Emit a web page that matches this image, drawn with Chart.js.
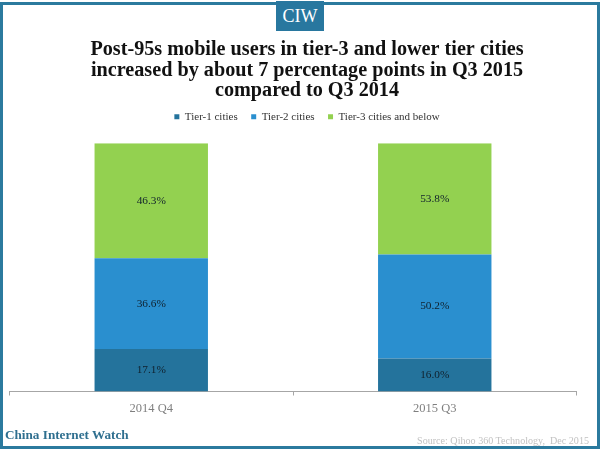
<!DOCTYPE html>
<html>
<head>
<meta charset="utf-8">
<script src="https://cdn.jsdelivr.net/npm/chart.js@4"></script>
<style>
html,body{margin:0;padding:0;background:#fff;}
#wrap{position:relative;width:600px;height:450px;overflow:hidden;background:#fff;}
#frame{position:absolute;left:0;top:2px;width:594px;height:441px;border:3px solid #2b7a9e;pointer-events:none;}
canvas{position:absolute;left:0;top:0;}
#badge{position:absolute;left:276px;top:1px;width:48px;height:30px;background:#28779f;color:#fff;font:18px "Liberation Serif",serif;line-height:31px;text-align:center;}
#brand{position:absolute;left:5px;top:426.5px;font:bold 13.2px "Liberation Serif",serif;line-height:15px;color:#2f6f8f;white-space:nowrap;}
#source{position:absolute;right:11px;top:433.5px;font:10.1px "Liberation Serif",serif;line-height:14px;color:#c2c2c2;white-space:pre;}
</style>
</head>
<body>
<div id="wrap">
<canvas id="c" width="600" height="450"></canvas>
<div id="frame"></div>
<div id="badge">CIW</div>
<div id="brand">China Internet Watch</div>
<div id="source">Source: Qihoo 360 Technology,  Dec 2015</div>
</div>
<script>
const categories = ["2014 Q4", "2015 Q3"];
const tier1 = [17.1, 16.0];
const tier2 = [36.6, 50.2];
const tier3 = [46.3, 53.8];
const seriesNames = ["Tier-1 cities", "Tier-2 cities", "Tier-3 cities and below"];
const seriesColors = ["#24739c", "#2a8fcf", "#93d150"];
const titleLines = [
  "Post-95s mobile users in tier-3 and lower tier cities",
  "increased by about 7 percentage points in Q3 2015",
  "compared to Q3 2014"
];

// The reference is a 100% stacked column: each column fills the full height.
const raw = [tier1, tier2, tier3];
const totals = categories.map((_, i) => raw.reduce((s, r) => s + r[i], 0));

const valueLabels = {
  id: "valueLabels",
  afterDatasetsDraw(chart) {
    const ctx = chart.ctx;
    ctx.save();
    ctx.font = '11.3px "Liberation Serif", serif';
    ctx.fillStyle = "#10202c";
    ctx.textAlign = "center";
    ctx.textBaseline = "middle";
    chart.data.datasets.forEach((ds, d) => {
      chart.getDatasetMeta(d).data.forEach((bar, i) => {
        ctx.fillText(raw[d][i].toFixed(1) + "%", bar.x, (bar.y + bar.base) / 2);
      });
    });
    ctx.restore();
  }
};

// Title and legend sit a little right of the plot centre in the reference,
// and the legend sits closer to the title than its own padding allows.
const headShift = {
  id: "headShift",
  afterLayout(chart) {
    [chart.titleBlock, chart.legend].forEach(b => {
      if (b) { b.left += 14; b.right += 14; }
    });
    if (chart.legend) { chart.legend.top -= 11; chart.legend.bottom -= 11; }
  }
};

new Chart(document.getElementById("c"), {
  type: "bar",
  data: {
    labels: categories,
    datasets: raw.map((r, d) => ({
      label: seriesNames[d],
      data: r.map((v, i) => v / totals[i] * 100),
      backgroundColor: seriesColors[d],
      borderWidth: 0,
      barPercentage: 0.4,
      categoryPercentage: 1
    }))
  },
  options: {
    responsive: false,
    animation: false,
    devicePixelRatio: 1,
    layout: { padding: { left: 9.5, right: 23.5, top: 39.5, bottom: 27.5 } },
    plugins: {
      tooltip: { enabled: false },
      title: {
        display: true,
        text: titleLines,
        color: "#111",
        font: { family: '"Liberation Serif", serif', size: 20.2, weight: "bold", lineHeight: 1.02 },
        padding: { top: 0, bottom: 7.5 }
      },
      legend: {
        display: true,
        position: "top",
        labels: {
          boxWidth: 5,
          boxHeight: 5,
          padding: 13.5,
          color: "#333",
          font: { family: '"Liberation Serif", serif', size: 11 }
        }
      }
    },
    scales: {
      x: {
        stacked: true,
        offset: true,
        grid: { display: true, offset: true, drawOnChartArea: false, drawTicks: true, tickLength: 4, color: "#a6a6a6" },
        border: { display: true, color: "#a6a6a6" },
        ticks: { color: "#7f7f7f", padding: 6, font: { family: '"Liberation Serif", serif', size: 12.5 }, maxRotation: 0 }
      },
      y: { stacked: true, display: false, min: 0, max: 100 }
    }
  },
  plugins: [valueLabels, headShift]
});
</script>
</body>
</html>
